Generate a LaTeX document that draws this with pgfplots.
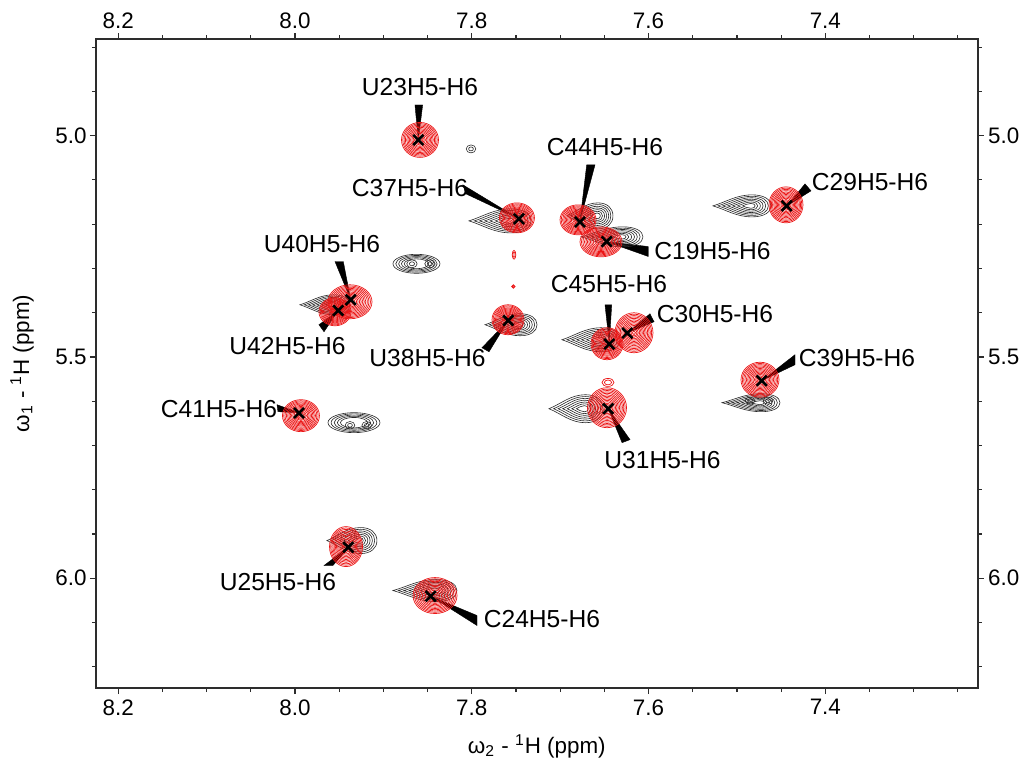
\documentclass[border=0pt]{standalone}
\usepackage{pgfplots}
\usepackage{pgfplotstable}
\pgfplotsset{compat=1.18}
\usepackage{fontspec}
\setmainfont{Liberation Sans}
\definecolor{nmrred}{RGB}{235,22,22}
\definecolor{nmrblack}{RGB}{40,40,40}
\definecolor{axgray}{RGB}{45,45,45}
\pgfdeclareplotmark{void}{}
\newcommand\labfont{\fontsize{12.3}{14}\selectfont}
\newcommand\tickfont{\fontsize{11.2}{13}\selectfont}
\newcommand\teardroppath[3]{% half-width, half-height, shift (pt)
  \pgfpathmoveto{\pgfpoint{#3pt-#1pt}{0pt}}%
  \pgfpathcurveto{\pgfpoint{#3pt-0.55*#1pt}{0.35*#2pt}}{\pgfpoint{#3pt-0.2*#1pt}{#2pt}}{\pgfpoint{#3pt+0.35*#1pt}{#2pt}}%
  \pgfpathcurveto{\pgfpoint{#3pt+0.75*#1pt}{#2pt}}{\pgfpoint{#3pt+#1pt}{0.6*#2pt}}{\pgfpoint{#3pt+#1pt}{0pt}}%
  \pgfpathcurveto{\pgfpoint{#3pt+#1pt}{-0.6*#2pt}}{\pgfpoint{#3pt+0.75*#1pt}{-#2pt}}{\pgfpoint{#3pt+0.35*#1pt}{-#2pt}}%
  \pgfpathcurveto{\pgfpoint{#3pt-0.2*#1pt}{-#2pt}}{\pgfpoint{#3pt-0.55*#1pt}{-0.35*#2pt}}{\pgfpoint{#3pt-#1pt}{0pt}}%
  \pgfpathclose}
\pgfplotsset{
  ellcont/.style n args={3}{%
    only marks, mark=void, scatter,
    visualization depends on={\thisrow{a}\as\pa},
    visualization depends on={\thisrow{b}\as\pb},
    scatter/@pre marker code/.code={%
      \pgfscope
      \pgfsetlinewidth{#3}\pgfsetstrokecolor{#2}%
      \foreach \s in {#1}{%
        \pgfpathellipse{\pgfpointorigin}{\pgfpoint{\s*\pa pt}{0pt}}{\pgfpoint{0pt}{\s*\pb pt}}%
        \pgfusepath{stroke}}%
      \endpgfscope},
    scatter/@post marker code/.code={},
  },
  tearcont/.style n args={3}{%
    only marks, mark=void, scatter,
    visualization depends on={\thisrow{a}\as\pa},
    visualization depends on={\thisrow{b}\as\pb},
    scatter/@pre marker code/.code={%
      \pgfscope
      \pgfsetlinewidth{#3}\pgfsetstrokecolor{#2}%
      \foreach \s in {#1}{%
        \pgfmathsetmacro\A{\s*\pa}\pgfmathsetmacro\B{\s*\pb}\pgfmathsetmacro\D{0.3*(1-\s)*\pa}%
        \teardroppath{\A}{\B}{\D}\pgfusepath{stroke}}%
      \endpgfscope},
    scatter/@post marker code/.code={},
  },
  wedge/.style={fill=black, draw=black, line width=0.2pt, mark=none},
}

% red spectrum peaks: position (ppm) and outer half-axes (pt)
\pgfplotstableread{
x y a b
7.8586 5.0097 9.25 8.75
7.7489 5.1858 8.75 7.5
7.6798 5.1903 9.0 7.5
7.6538 5.2400 10.5 7.5
7.4445 5.1564 8.5 9.0
7.9378 5.3754 11.0 8.5
7.9548 5.3980 8.0 7.0
7.7590 5.4160 8.0 7.5
7.6470 5.4702 8.0 8.0
7.6165 5.4454 9.5 10.0
7.6470 5.6147 9.75 10.0
7.4739 5.5515 9.5 8.75
7.9933 5.6327 9.25 8.0
7.9423 5.9285 8.25 10.0
7.8416 6.0391 11.0 9.0
}\redpeaks
\pgfplotstableread{
x y a b
7.7522 5.2693 0.9 2.2
7.7530 5.3409 0.9 0.9
7.6459 5.5576 3.0 2.0
}\redsmall
% black spectrum peaks (tapered)
\pgfplotstableread{
x y a b
7.7681 5.1926 15.5 6.0
7.6663 5.1813 11.5 6.5
7.6414 5.2287 15.5 5.0
7.4943 5.1587 14.5 5.5
7.9661 5.3822 12.5 5.0
7.7556 5.4273 13.0 5.5
7.6651 5.4612 14.5 6.0
7.6821 5.6170 13.5 7.0
7.4841 5.6034 14.5 4.5
7.9356 5.9149 12.5 6.5
7.8530 6.0278 16.0 5.5
}\blackpeaks
% black spectrum peaks (oval, two maxima)
\pgfplotstableread{
x y a b
7.8626 5.2896 11.75 4.75
7.9333 5.6485 13.0 5.0
}\blackoval
\pgfplotstableread{
x y a b
7.8009 5.0300 2.4 2.0
7.8677 5.2896 2.6 2.0
7.8473 5.2896 2.6 2.0
7.9378 5.6545 2.4 1.9
7.9189 5.6545 2.4 1.9
7.4852 5.5989 2.4 1.8
7.4648 5.5989 2.4 1.8
}\blacksmall
% assigned cross-peaks
\pgfplotstableread{
x y
7.8605 5.0097
7.7466 5.1880
7.6776 5.1952
7.6474 5.2393
7.4437 5.1587
7.9370 5.3709
7.9511 5.3950
7.7587 5.4176
7.6444 5.4709
7.6240 5.4460
7.6456 5.6169
7.4720 5.5537
7.9955 5.6266
7.9397 5.9300
7.8465 6.0406
}\crosses

\begin{document}
\begin{tikzpicture}
\useasboundingbox (0,0) rectangle (512pt,383pt);
\begin{axis}[
  at={(48pt,39pt)}, anchor=south west,
  scale only axis, width=440.85pt, height=324.5pt,
  x dir=reverse, y dir=reverse,
  xmin=7.2276, xmax=8.2252, ymin=4.7817, ymax=6.248,
  xtick={7.4,7.6,7.8,8.0,8.2},
  minor xtick={7.25,7.3,7.35,7.45,7.5,7.55,7.65,7.7,7.75,7.85,7.9,7.95,8.05,8.1,8.15},
  ytick={5.0,5.5,6.0},
  minor ytick={4.8,4.9,5.1,5.2,5.3,5.4,5.6,5.7,5.8,5.9,6.1,6.2},
  xtick pos=both, ytick pos=both,
  tick align=outside, major tick length=3pt, minor tick length=2pt,
  every tick/.style={axgray, line width=0.6pt},
  axis line style={axgray, line width=1pt},
  /pgf/number format/fixed, /pgf/number format/fixed zerofill,
  /pgf/number format/precision=1, /pgf/number format/assume math mode=true,
  tick label style={font=\tickfont, black},
  xticklabel style={inner sep=2.5pt},
  yticklabel style={inner sep=1.5pt},
  xlabel={ω\textsubscript{2} - \textsuperscript{1}H (ppm)},
  ylabel={ω\textsubscript{1} - \textsuperscript{1}H (ppm)},
  label style={font=\tickfont},
  xlabel style={at={(axis description cs:0.5,-0.0894)}, anchor=center},
  ylabel style={at={(axis description cs:-0.0839,0.5)}, anchor=center},
]
% black (reference) contours
\addplot[tearcont={1,0.87,0.74,0.61,0.48,0.35,0.22}{nmrblack}{0.3pt}] table[x=x,y=y] {\blackpeaks};
\addplot[ellcont={1,0.88,0.76,0.64,0.52}{nmrblack}{0.3pt}] table[x=x,y=y] {\blackoval};
\addplot[ellcont={1,0.5}{nmrblack}{0.3pt}] table[x=x,y=y] {\blacksmall};
% red contours
\addplot[ellcont={1,0.93,0.86,0.79,0.72,0.65,0.58,0.51,0.44,0.37,0.30,0.23,0.16,0.09}{nmrred}{0.35pt}] table[x=x,y=y] {\redpeaks};
\addplot[ellcont={1,0.6}{nmrred}{0.35pt}] table[x=x,y=y] {\redsmall};
% pointer wedges
\addplot[wedge] coordinates {(7.8605,5.0097) (7.8643,4.9307) (7.8556,4.9307)} -- cycle;
\addplot[wedge] coordinates {(7.7466,5.1880) (7.8100,5.1113) (7.8066,5.1316)} -- cycle;
\addplot[wedge] coordinates {(7.6776,5.1926) (7.6700,5.0661) (7.6606,5.0661)} -- cycle;
\addplot[wedge] coordinates {(7.6470,5.2400) (7.6003,5.2506) (7.6003,5.2731)} -- cycle;
\addplot[wedge] coordinates {(7.4433,5.1587) (7.4230,5.1090) (7.4162,5.1248)} -- cycle;
\addplot[wedge] coordinates {(7.9370,5.3709) (7.9548,5.2844) (7.9454,5.2844)} -- cycle;
\addplot[wedge] coordinates {(7.9511,5.3950) (7.9729,5.4273) (7.9672,5.4431)} -- cycle;
\addplot[wedge] coordinates {(7.7590,5.4183) (7.7885,5.4792) (7.7805,5.4883)} -- cycle;
\addplot[wedge] coordinates {(7.6444,5.4702) (7.6493,5.3822) (7.6417,5.3822)} -- cycle;
\addplot[wedge] coordinates {(7.6240,5.4461) (7.5984,5.4025) (7.5938,5.4205)} -- cycle;
\addplot[wedge] coordinates {(7.6456,5.6169) (7.6300,5.6937) (7.6210,5.6869)} -- cycle;
\addplot[wedge] coordinates {(7.4720,5.5537) (7.4343,5.4950) (7.4343,5.5176)} -- cycle;
\addplot[wedge] coordinates {(7.9955,5.6260) (8.0204,5.6079) (8.0193,5.6237)} -- cycle;
\addplot[wedge] coordinates {(7.9397,5.9300) (7.9672,5.9713) (7.9571,5.9713)} -- cycle;
\addplot[wedge] coordinates {(7.8465,6.0406) (7.7941,6.0842) (7.7941,6.1068)} -- cycle;
% crosses
\addplot[only marks, mark=x, mark size=3.6pt, mark options={line width=1.3pt, black}] table[x=x,y=y] {\crosses};
% labels
\node[font=\labfont] at (axis cs:7.8586,4.890) {U23H5-H6};
\node[font=\labfont] at (axis cs:7.8699,5.118) {C37H5-H6};
\node[font=\labfont] at (axis cs:7.6493,5.0255) {C44H5-H6};
\node[font=\labfont] at (axis cs:7.5276,5.2603) {C19H5-H6};
\node[font=\labfont] at (axis cs:7.3494,5.1045) {C29H5-H6};
\node[font=\labfont] at (axis cs:7.9695,5.2445) {U40H5-H6};
\node[font=\labfont] at (axis cs:8.0085,5.4747) {U42H5-H6};
\node[font=\labfont] at (axis cs:7.8501,5.5018) {U38H5-H6};
\node[font=\labfont] at (axis cs:7.6448,5.3348) {C45H5-H6};
\node[font=\labfont] at (axis cs:7.5248,5.4025) {C30H5-H6};
\node[font=\labfont] at (axis cs:7.5842,5.7321) {U31H5-H6};
\node[font=\labfont] at (axis cs:7.3641,5.5018) {C39H5-H6};
\node[font=\labfont] at (axis cs:8.0861,5.6169) {C41H5-H6};
\node[font=\labfont] at (axis cs:8.0193,6.0097) {U25H5-H6};
\node[font=\labfont] at (axis cs:7.7206,6.0914) {C24H5-H6};
\end{axis}
% second axis: tick labels on top and right
\begin{axis}[
  at={(48pt,39pt)}, anchor=south west,
  scale only axis, width=440.85pt, height=324.5pt,
  x dir=reverse, y dir=reverse,
  xmin=7.2276, xmax=8.2252, ymin=4.7817, ymax=6.248,
  xtick={7.4,7.6,7.8,8.0,8.2}, ytick={5.0,5.5,6.0},
  xticklabel pos=right, yticklabel pos=right,
  tick align=outside, major tick length=3pt,
  every tick/.style={draw=none},
  axis line style={draw=none},
  /pgf/number format/fixed, /pgf/number format/fixed zerofill,
  /pgf/number format/precision=1, /pgf/number format/assume math mode=true,
  tick label style={font=\tickfont, black},
  xticklabel style={inner sep=2.0pt},
  yticklabel style={inner sep=2.0pt},
]
\end{axis}
\end{tikzpicture}
\end{document}
